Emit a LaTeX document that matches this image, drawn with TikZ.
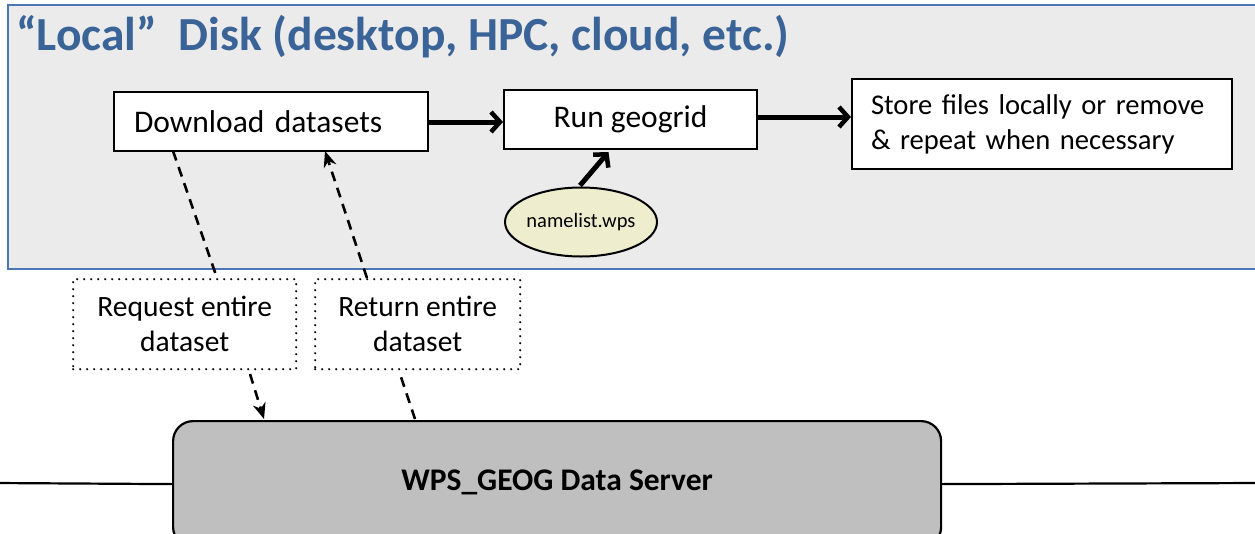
\documentclass[tikz,border=0pt]{standalone}
\usepackage{fontspec}
\setmainfont{Carlito}
\usetikzlibrary{arrows.meta,shapes.geometric}
\definecolor{panelfill}{HTML}{EBEBEB}
\definecolor{panelline}{HTML}{4A78B4}
\definecolor{titleblue}{HTML}{3A6497}
\definecolor{ellfill}{HTML}{EEEECF}
\definecolor{srvfill}{HTML}{BFBFBF}
\tikzset{
  whitebox/.style={draw=black, line width=2pt, fill=white, font=\fontsize{31.5}{36}\selectfont},
  dotbox/.style={draw=black, line width=2.4pt, line cap=round, dash pattern=on 0pt off 7pt, font=\fontsize{29.5}{35}\selectfont, align=center},
  thickarrow/.style={line width=5pt, -{Straight Barb[length=9pt,width=20pt,line width=4.5pt]}},
  dasharrow/.style={line width=2.6pt, dash pattern=on 10pt off 7pt, -{Stealth[length=16pt,width=13pt]}},
  dashline/.style={line width=2.6pt, dash pattern=on 10pt off 7pt}
}
\begin{document}
\begin{tikzpicture}[x=1pt,y=-1pt]
\useasboundingbox (0,0) rectangle (1255,533);
% panel
\fill[panelfill] (8,5) rectangle (1270,269);
\draw[panelline, line width=2.2pt] (1270,5) -- (8,5) -- (8,269) -- (1270,269);
\node[anchor=base west, inner sep=0, text=titleblue, font=\fontsize{47.5}{50}\selectfont\bfseries] (title) at (16,50) {“Local”\ \ Disk (desktop, HPC, cloud, etc.)};
% boxes
\node[whitebox, anchor=north west, minimum height=59pt, text width=274pt, inner xsep=20pt, align=left] (dl) at (113,91) {Download datasets};
\node[whitebox, anchor=north west, minimum width=253pt, minimum height=59pt] (rg) at (503,89) {Run geogrid};
\node[whitebox, anchor=north west, minimum height=90pt, text width=342pt, inner xsep=19pt, align=left, font=\fontsize{28.6}{35}\selectfont] (st) at (851,78) {Store files locally or remove\\\& repeat when necessary};
\node[draw=black, line width=2pt, fill=ellfill, ellipse, inner xsep=-3pt, inner ysep=0pt, minimum width=152pt, minimum height=69pt, font=\fontsize{20.5}{22}\selectfont] (nl) at (581,222) {namelist.wps};
% dotted boxes
\node[dotbox, anchor=north west, minimum width=223pt, minimum height=90pt] (req) at (72,278) {Request entire\\dataset};
\node[dotbox, anchor=north west, minimum width=205pt, minimum height=90pt] (ret) at (314,278) {Return entire\\dataset};
% server
\coordinate (lineL) at (-5,483);
\coordinate (lineR) at (1260,483);
\node[draw=black, line width=2.2pt, fill=srvfill, rounded corners=20pt, anchor=north west, minimum width=768pt, minimum height=126pt, font=\fontsize{31.5}{34}\selectfont\bfseries] (srv) at (172,420) {\raisebox{8pt}{WPS\_GEOG Data Server}};
\draw[line width=2.2pt] (lineL) -- (srv.west);
\draw[line width=2.2pt] (srv.east) -- (lineR);
% arrows
\draw[thickarrow] (dl.east |- 0,122) -- (rg.west |- 0,122);
\draw[thickarrow] (rg.east |- 0,117) -- (st.west |- 0,117);
\draw[thickarrow] ([shift={(-1,-1)}]nl.north) -- ([shift={(-22,2)}]rg.south);
% dashed connectors
\coordinate (a1) at (173,151);
\coordinate (a2) at (217,278);
\draw[dashline] (a1) -- (a2);
\coordinate (b1) at (250,374);
\coordinate (b2) at (264,419);
\draw[dasharrow] (b1) -- (b2);
\coordinate (c1) at (415,419);
\coordinate (c2) at (400,374);
\draw[dashline] (c1) -- (c2);
\coordinate (d1) at (367,278);
\coordinate (d2) at (325,151);
\draw[dasharrow] (d1) -- (d2);
\end{tikzpicture}
\end{document}
